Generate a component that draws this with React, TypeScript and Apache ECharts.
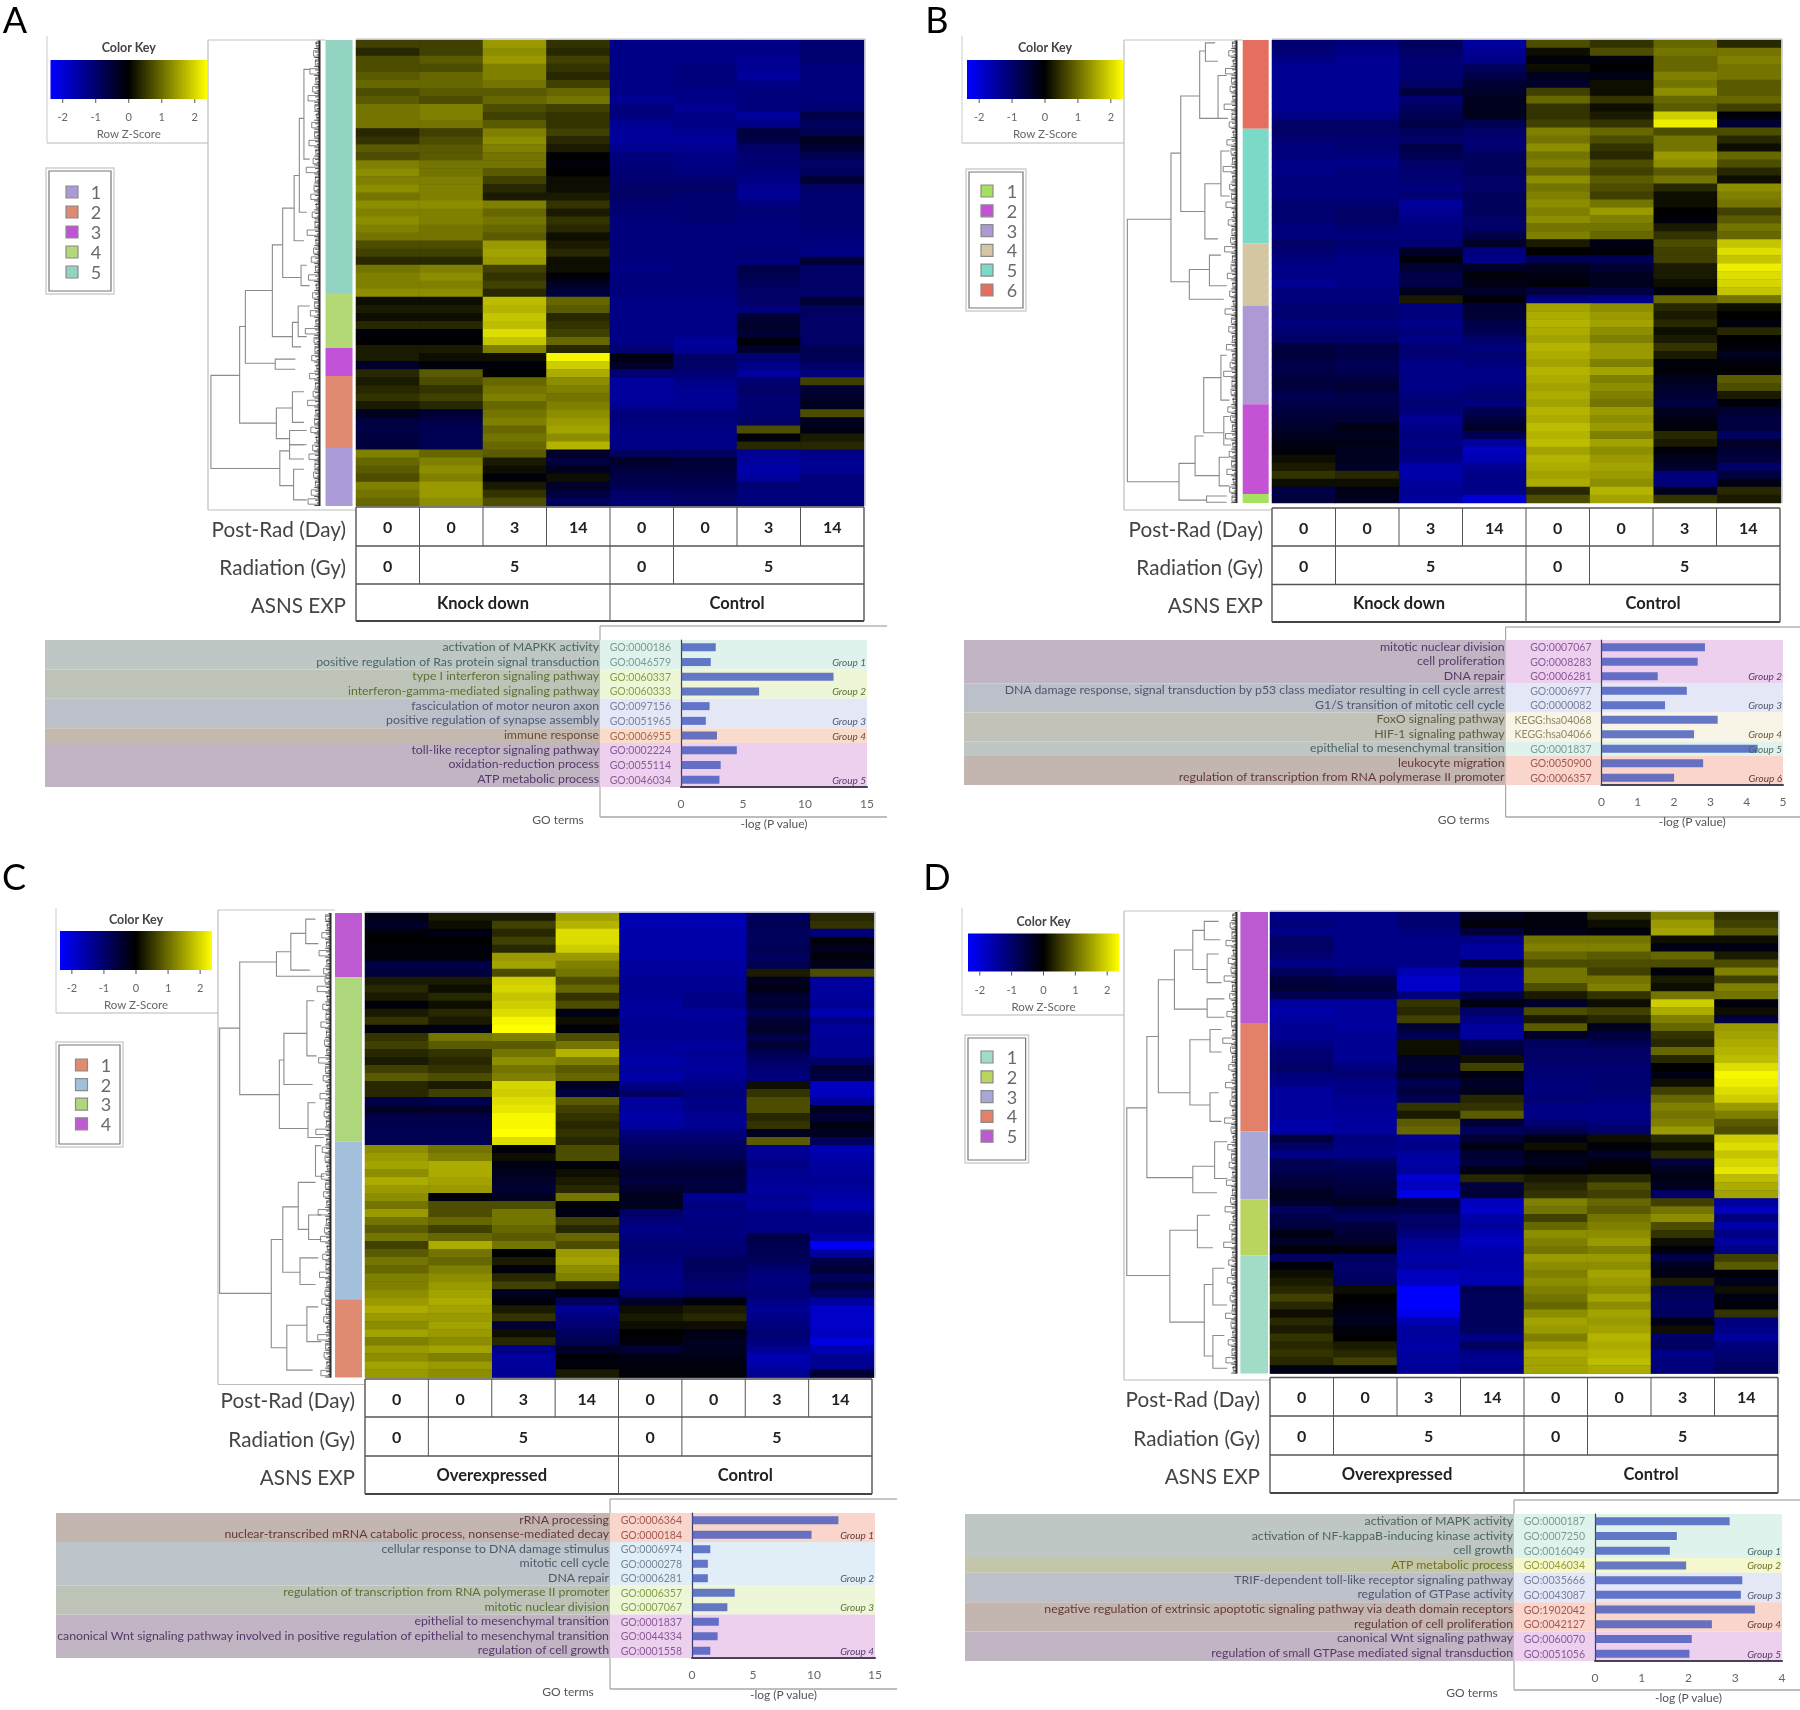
import React, { useEffect, useRef } from "react";
import * as echarts from "echarts";

const postRadDays = ["0", "0", "3", "14", "0", "0", "3", "14"];
const radiationSpans: [number, string][] = [[1, "0"], [3, "5"], [1, "0"], [3, "5"]];
const keyTicks = [-2, -1, 0, 1, 2];

const heatA = [
[5,5,12,4,-13,-13,-13,-11],[3,5,11,3,-13,-13,-13,-11],[6,7,12,5,-13,-13,-14,-11],[6,6,10,4,-13,-12,-14,-12],[7,8,10,3,-13,-12,-15,-12],[8,8,9,5,-13,-12,-13,-12],[6,7,7,8,-13,-13,-12,-12],[7,6,8,9,-14,-13,-12,-12],[9,10,6,5,-12,-14,-12,-11],[9,10,5,4,-12,-13,-15,-7],
[9,9,7,4,-14,-13,-13,-9],[3,5,10,5,-15,-14,-6,-8],[4,6,11,3,-15,-15,-7,-3],[7,7,10,2,-14,-14,-10,-5],[6,7,9,0,-12,-13,-11,-8],[10,9,9,-1,-12,-13,-11,-10],[11,9,7,0,-11,-12,-12,-9],[10,10,5,1,-11,-11,-13,-5],[11,10,3,1,-10,-10,-14,-10],[9,10,2,2,-10,-11,-14,-11],
[11,11,10,4,-11,-11,-12,-11],[10,10,8,2,-11,-11,-11,-11],[11,10,9,4,-12,-11,-12,-11],[10,9,8,3,-12,-12,-12,-11],[9,9,7,1,-12,-12,-12,-12],[6,6,12,2,-12,-12,-12,-12],[5,5,13,3,-12,-12,-11,-13],[3,3,12,1,-12,-12,-12,-5],[9,10,5,1,-13,-12,-7,-10],[10,11,4,-1,-12,-12,-8,-10],
[10,10,5,-4,-12,-12,-9,-10],[11,11,3,-6,-12,-12,-10,-10],[1,1,16,8,-13,-13,-10,-5],[2,2,15,7,-13,-13,-12,-9],[1,1,17,3,-13,-13,-5,-10],[3,3,16,4,-13,-13,-4,-10],[-1,-1,20,5,-13,-13,-5,-10],[0,0,17,8,-13,-15,-1,-10],[2,2,10,3,-11,-14,-4,-8],[2,1,1,23,-2,-10,-11,-8],
[-4,-1,-1,18,-4,-10,-13,-10],[3,7,0,14,-11,-11,-15,-12],[2,6,8,11,-15,-13,-11,5],[3,4,9,10,-15,-14,-10,-5],[4,5,10,9,-15,-14,-11,-4],[2,3,8,10,-14,-14,-11,-3],[-3,-5,9,11,-12,-12,-11,6],[-6,-7,10,12,-12,-12,-10,-3],[-7,-8,8,13,-13,-13,6,-2],[-6,-8,9,11,-13,-13,-1,2],
[-6,-8,8,15,-13,-13,3,3],[10,8,7,-4,-9,-9,-14,-13],[8,10,2,-6,-4,-5,-15,-14],[7,11,1,-3,-6,-6,-16,-14],[6,10,-1,1,-7,-7,-15,-12],[10,12,2,-4,-8,-8,-11,-12],[9,12,4,-6,-10,-9,-12,-12],[8,11,6,-9,-11,-10,-12,-12],
];
const heatB = [
[-11,-12,-9,-15,6,4,8,3],[-11,-13,-10,-14,1,6,9,9],[-13,-14,-11,-13,-1,-1,8,10],[-14,-14,-11,-9,1,0,8,9],[-14,-14,-11,-7,-3,-2,10,9],[-14,-14,-10,-5,-4,1,9,7],[-14,-14,-6,-4,5,1,11,7],[-14,-14,-11,-3,8,4,8,8],[-14,-14,-9,-3,4,1,7,5],[-13,-13,-8,-3,4,2,18,-1],
[-10,-10,-7,-8,5,4,22,-5],[-10,-10,-9,-10,10,8,6,6],[-11,-11,-10,-11,9,6,9,3],[-12,-11,-7,-11,11,4,9,1],[-12,-12,-8,-9,9,3,12,8],[-13,-13,-10,-9,10,6,11,6],[-13,-12,-11,-9,8,5,7,3],[-12,-12,-11,-10,11,7,9,1],[-12,-12,-12,-10,9,6,3,11],[-12,-12,-11,-9,10,5,1,10],
[-11,-11,-15,-9,11,9,1,9],[-11,-10,-14,-9,10,12,0,5],[-11,-10,-13,-10,11,10,-1,7],[-12,-11,-12,-10,9,9,2,9],[-12,-12,-12,-7,10,8,4,8],[-10,-11,-11,-4,2,-2,6,17],[-11,-12,-4,-12,0,-1,5,20],[-12,-13,-1,-13,-8,-8,5,17],[-13,-13,-5,-4,-3,-5,2,22],[-13,-13,-7,-1,-2,-3,2,20],
[-14,-13,-7,-2,-1,-3,1,19],[-12,-12,-3,-4,-6,-6,-1,17],[-12,-12,2,-1,-12,-13,8,9],[-11,-11,-12,-5,13,11,3,1],[-11,-11,-12,-5,14,12,2,0],[-12,-12,-13,-7,15,13,3,-1],[-11,-11,-12,-8,14,11,1,3],[-10,-10,-13,-10,13,10,2,0],[-6,-7,-11,-12,15,12,4,-1],[-6,-7,-11,-11,14,12,2,-3],
[-7,-8,-13,-12,13,10,-1,-1],[-7,-8,-13,-13,15,13,-1,0],[-6,-6,-13,-13,14,10,-3,7],[-6,-5,-13,-12,13,11,-4,6],[-8,-7,-12,-11,14,10,-5,2],[-7,-7,-11,-12,13,9,-6,-1],[-6,-6,-12,-8,15,12,-3,-5],[-5,-5,-14,-6,14,11,-2,-6],[-4,-2,-13,-4,16,12,-1,-6],[-3,-3,-12,-8,15,10,3,-9],
[-2,-2,-13,-15,16,13,2,-4],[-1,-3,-12,-18,13,11,-1,-5],[1,-3,-13,-17,15,12,-3,-6],[2,-4,-16,-14,14,13,-4,-10],[4,3,-16,-13,13,12,-12,-6],[1,1,-15,-13,14,11,-12,-2],[-7,-2,-14,-13,3,15,-3,3],[-6,-3,-15,-20,6,13,4,2],
];
const heatC = [
[-2,2,2,13,-17,-17,-9,3],[-4,1,5,15,-17,-17,-8,4],[-1,-2,3,20,-16,-16,-9,-12],[0,0,5,20,-16,-16,-9,-1],[-1,-1,3,18,-16,-16,-8,-3],[-1,-1,12,12,-16,-16,-9,-1],[-7,-7,13,10,-15,-15,-8,-3],[-6,-6,6,9,-15,-15,2,6],[2,2,18,6,-14,-14,-3,-15],[3,1,19,8,-14,-14,-2,-15],
[2,3,17,4,-14,-13,-5,-15],[-1,1,18,6,-15,-13,-5,-14],[2,3,20,-2,-15,-15,-8,-17],[4,2,23,1,-14,-14,-5,-13],[-1,-2,24,-1,-14,-14,-4,-15],[4,9,10,6,-14,-14,-7,-14],[5,7,7,9,-15,-15,-5,-14],[3,4,9,15,-15,-14,-8,-14],[2,3,11,10,-16,-15,-10,-10],[5,4,9,7,-15,-15,-11,-5],
[7,6,10,8,-16,-14,-12,-6],[3,2,19,-4,-13,-13,1,-18],[3,5,18,-6,-10,-12,4,-18],[-7,-8,20,7,-15,-13,6,-15],[-4,-4,21,5,-15,-13,6,-3],[-7,-7,23,4,-16,-14,3,-5],[-8,-8,23,3,-15,-14,4,-2],[-8,-8,24,4,-12,-12,-3,-3],[-8,-8,20,3,-10,-10,7,-9],[11,9,-1,6,-9,-9,-14,-17],
[12,10,1,6,-8,-8,-14,-16],[13,14,-2,-1,-6,-6,-13,-15],[11,14,-3,1,-5,-5,-14,-15],[14,13,-4,2,-6,-6,-14,-14],[12,12,-5,3,-4,-6,-15,-15],[11,-1,-3,9,-3,-14,-14,-16],[9,6,6,-1,-3,-12,-15,-17],[12,6,9,-2,-10,-13,-13,-14],[9,8,9,5,-12,-12,-13,-13],[7,5,8,3,-13,-12,-13,-13],
[9,8,7,8,-12,-12,-7,-15],[5,14,9,6,-11,-11,-8,-23],[7,9,0,12,-11,-11,-8,-15],[9,8,2,13,-12,-9,-9,-7],[8,10,-1,11,-13,-9,-11,-5],[10,11,3,10,-13,-10,-12,-9],[10,12,5,3,-13,-11,-12,-6],[11,13,-3,-1,-11,-10,-11,-9],[12,14,-1,-9,-4,-1,-13,-15],[14,13,2,-14,1,2,-14,-19],
[12,12,4,-12,2,3,-13,-19],[11,13,-5,-11,1,1,-12,-19],[13,12,1,-9,0,-2,-11,-18],[10,11,3,-8,-1,-3,-12,-21],[12,13,-13,-4,-5,-3,-14,-17],[11,10,-15,-1,-2,-2,-17,-14],[13,12,-15,-1,-1,-1,-16,-14],[12,11,-14,2,-1,-1,-14,-5],
];
const heatD = [
[-13,-13,-11,-3,-1,3,10,4],[-12,-13,-11,-1,-1,1,12,5],[-13,-13,-12,-5,-2,-1,13,7],[-10,-13,-13,-13,9,9,1,1],[-10,-13,-13,-15,10,10,-2,-2],[-11,-13,-13,-15,8,7,8,2],[-13,-13,-13,-4,6,6,6,6],[-9,-11,-17,-14,9,5,-1,10],[-6,-7,-19,-15,9,9,2,5],[-5,-6,-19,-15,6,10,1,10],
[-8,-8,-12,-7,2,4,9,9],[-15,-15,4,-2,-4,1,18,-1],[-16,-15,3,-10,6,5,14,1],[-15,-15,5,-13,2,3,10,-6],[-14,-15,-5,-15,7,-3,8,12],[-14,-14,-8,-15,-4,-6,4,13],[-13,-14,1,-7,-9,-8,3,14],[-11,-14,1,-5,-10,-10,8,15],[-11,-14,-4,1,-10,-10,3,16],[-10,-12,-5,5,-11,-11,0,20],
[-12,-11,-4,-2,-11,-11,-2,23],[-13,-13,-8,-4,-12,-11,1,22],[-15,-13,-6,-3,-12,-11,5,20],[-15,-14,-8,3,-11,-12,8,18],[-15,-14,4,4,-13,-13,10,12],[-15,-15,2,7,-13,-13,9,10],[-16,-15,7,-5,-11,-12,10,7],[-16,-15,8,-9,-8,-10,12,6],[-6,-12,-14,-5,-2,1,3,18],[-10,-13,-13,-2,1,-1,1,20],
[-13,-13,-15,-5,-2,-4,3,17],[-8,-9,-16,-6,-3,-1,-6,19],[-8,-8,-15,-2,-1,0,-3,21],[-6,-7,-20,3,2,3,-2,16],[-5,-6,-18,-6,3,6,-3,14],[-3,-5,-22,-5,4,5,-10,13],[-4,-3,-6,-18,10,8,5,-15],[-9,-7,-7,-19,9,7,9,-18],[-7,-9,-10,-16,5,9,11,-12],[-6,-6,-10,-15,8,10,6,-16],
[-2,-5,-12,-17,11,11,4,-13],[-4,-4,-14,-18,10,12,1,-15],[-1,-1,-15,-17,9,10,-1,-13],[-9,-9,-16,-16,12,12,-7,5],[-1,-10,-15,-16,11,11,-3,7],[1,-10,-18,-17,10,13,-2,-1],[2,-9,-18,-17,11,12,2,-3],[3,1,-24,-8,10,11,-8,1],[5,0,-24,-9,9,13,-9,-2],[3,-1,-24,-9,8,11,-10,-1],
[1,-2,-22,-9,11,13,-9,4],[3,-3,-17,-9,13,12,-2,-12],[2,-1,-15,-9,12,13,1,-13],[4,0,-15,-13,10,15,-10,-15],[3,2,-16,-9,12,14,-9,-12],[4,3,-15,-13,14,15,-13,-11],[3,5,-15,-14,13,16,-12,-10],[-2,-1,-14,-13,13,14,-12,-9],
];

const clusterSizesA = [253, 55, 28, 72, 58];
const clusterColorsA = ["#93d3c2", "#b3d977", "#c252d8", "#e08a72", "#ab9bd6"];
const clusterSizesB = [89, 115, 62, 99, 90, 9];
const clusterColorsB = ["#e56f5f", "#7bd9c7", "#d2c6a3", "#ad99d4", "#c452d4", "#a6e060"];
const clusterSizesC = [64, 164, 157, 78];
const clusterColorsC = ["#be5bd2", "#aed67a", "#a2c0dc", "#df8b72"];
const clusterSizesD = [111, 108, 68, 56, 118];
const clusterColorsD = ["#bc5ad2", "#e38068", "#a9a6d8", "#bad55e", "#a0dcc6"];

const mergesA = [[368,920,1148,418,488],[418,800,1037,428,482],[428,712,890,475,480],[475,600,825,493,510],[493,510,680,513,525],[513,430,590,522,530],[522,290,520,530,535],[530,170,390,540,540],[525,650,700,535,540],[510,790,850,520,525],[520,750,825,540,535],[480,880,905,515,515],[482,1000,1075,510,505],[510,960,1035,530,530],[505,1055,1090,535,535],[488,1105,1190,505,512],[505,1090,1125,530,530],[512,1150,1225,530,535]];
const mergesB = [[397,537,1180,473,487],[473,375,690,490,505],[490,235,518,523,532],[523,125,290,533,555],[533,105,150,550,555],[555,185,290,570,572],[532,450,585,560,555],[560,370,480,575,575],[505,660,733,540,565],[540,625,700,560,570],[487,1135,1225,515,535],[515,1068,1165,530,557],[530,925,1060,560,565],[560,870,980,570,575],[565,1020,1090,575,578],[535,1215,1230,570,570],[557,1120,1190,575,575]];
const mergesC = [[383,412,1062,418,473],[418,250,575,482,487],[482,225,285,507,570],[507,180,270,533,540],[533,145,205,550,555],[487,490,658,495,537],[495,425,550,535,545],[535,345,480,548,552],[537,595,680,550,565],[473,930,1195,493,500],[493,850,1010,520,523],[520,790,905,550,538],[550,700,775,560,565],[538,870,930,560,560],[523,975,1040,555,550],[500,1140,1250,535,545],[535,1095,1180,555,560]];
const mergesD = [[395,607,1018,430,470],[430,432,778,450,510],[450,293,570,478,505],[478,220,365,510,535],[510,172,268,530,535],[530,150,195,555,558],[535,230,300,555,560],[535,340,385,565,565],[505,440,600,540,540],[540,415,470,560,560],[540,570,640,555,560],[510,750,815,548,552],[548,690,780,570,570],[470,907,1132,518,530],[518,870,950,540,545],[530,1040,1215,545,545],[545,1000,1090,565,570],[545,1165,1245,565,570]];

const twigsA = [8,14,10,22,9,16,26,11,7,18,12,24,9,15,30,10,13,20,8,17,11,28,9,14,19,10,25,8,16,12,21,9,32,13,11,18,7,23,10,15,27,9,12,20,8,16,24,11,14,10,19,26];
const twigsB = [10,18,8,25,12,15,9,28,11,17,8,22,13,10,30,9,16,12,24,8,19,11,14,27,10,13,21,9,16,8,26,12,18,10,23,9,15,29,11,13,8,20,14,10,25,9,17,12,22,8,16,11];
const twigsC = [12,8,20,10,26,9,16,13,30,8,18,11,22,10,14,9,27,12,17,8,24,11,15,10,33,9,19,13,8,21,12,16,9,28,10,14,23,8,18,11,25,9,13,20,10,16,8,29,12,15,9,22];
const twigsD = [9,15,11,24,8,19,13,28,10,16,8,22,12,9,31,14,10,18,8,25,11,15,9,27,13,8,20,12,17,9,23,10,14,26,8,16,11,29,9,18,12,21,8,15,10,25,13,9,19,11,24,8];

const goIdsA = ["GO:0000186","GO:0046579","GO:0060337","GO:0060333","GO:0097156","GO:0051965","GO:0006955","GO:0002224","GO:0055114","GO:0046034"];
const goTermsA = ["activation of MAPKK activity","positive regulation of Ras protein signal transduction","type I interferon signaling pathway","interferon-gamma-mediated signaling pathway","fasciculation of motor neuron axon","positive regulation of synapse assembly","immune response","toll-like receptor signaling pathway","oxidation-reduction process","ATP metabolic process"];
const goValuesA = [2.8, 2.4, 12.3, 6.3, 2.3, 2.0, 2.9, 4.5, 3.2, 3.1];
const goGroupsA: [string, number, string][] = [["Group 1", 2, "teal"], ["Group 2", 2, "green"], ["Group 3", 2, "lav"], ["Group 4", 1, "peach"], ["Group 5", 3, "pink"]];

const goIdsB = ["GO:0007067","GO:0008283","GO:0006281","GO:0006977","GO:0000082","KEGG:hsa04068","KEGG:hsa04066","GO:0001837","GO:0050900","GO:0006357"];
const goTermsB = ["mitotic nuclear division","cell proliferation","DNA repair","DNA damage response, signal transduction by p53 class mediator resulting in cell cycle arrest","G1/S transition of mitotic cell cycle","FoxO signaling pathway","HIF-1 signaling pathway","epithelial to mesenchymal transition","leukocyte migration","regulation of transcription from RNA polymerase II promoter"];
const goValuesB = [2.85, 2.65, 1.55, 2.35, 1.75, 3.2, 2.55, 4.3, 2.8, 2.0];
const goGroupsB: [string, number, string][] = [["Group 2", 3, "pink"], ["Group 3", 2, "lav"], ["Group 4", 2, "tan"], ["Group 5", 1, "teal"], ["Group 6", 2, "salmon"]];

const goIdsC = ["GO:0006364","GO:0000184","GO:0006974","GO:0000278","GO:0006281","GO:0006357","GO:0007067","GO:0001837","GO:0044334","GO:0001558"];
const goTermsC = ["rRNA processing","nuclear-transcribed mRNA catabolic process, nonsense-mediated decay","cellular response to DNA damage stimulus","mitotic cell cycle","DNA repair","regulation of transcription from RNA polymerase II promoter","mitotic nuclear division","epithelial to mesenchymal transition","canonical Wnt signaling pathway involved in positive regulation of epithelial to mesenchymal transition","regulation of cell growth"];
const goValuesC = [12, 9.8, 1.5, 1.3, 1.3, 3.5, 2.9, 2.2, 2.1, 1.5];
const goGroupsC: [string, number, string][] = [["Group 1", 2, "salmon"], ["Group 2", 3, "sky"], ["Group 3", 2, "green"], ["Group 4", 3, "pink"]];

const goIdsD = ["GO:0000187","GO:0007250","GO:0016049","GO:0046034","GO:0035666","GO:0043087","GO:1902042","GO:0042127","GO:0060070","GO:0051056"];
const goTermsD = ["activation of MAPK activity","activation of NF-kappaB-inducing kinase activity","cell growth","ATP metabolic process","TRIF-dependent toll-like receptor signaling pathway","regulation of GTPase activity","negative regulation of extrinsic apoptotic signaling pathway via death domain receptors","regulation of cell proliferation","canonical Wnt signaling pathway","regulation of small GTPase mediated signal transduction"];
const goValuesD = [2.88, 1.75, 1.6, 1.95, 3.15, 3.12, 3.42, 2.5, 2.07, 2.02];
const goGroupsD: [string, number, string][] = [["Group 1", 3, "teal"], ["Group 2", 1, "yellow"], ["Group 3", 2, "lav"], ["Group 4", 2, "salmon"], ["Group 5", 2, "pink"]];

const bandTones: Record<string, { left: string; right: string; text: string; id: string }> = {
  teal: { left: "#bfc7c4", right: "#dff3ec", text: "#4b6562", id: "#7d9a95" },
  green: { left: "#bdc4b7", right: "#eef6d8", text: "#5c7034", id: "#86a04a" },
  lav: { left: "#bbc0c9", right: "#e4e7f6", text: "#50566e", id: "#7b82a0" },
  peach: { left: "#c4b9ae", right: "#f9dccb", text: "#6e4a38", id: "#a5694c" },
  pink: { left: "#c2b5c3", right: "#ecd0ee", text: "#55386a", id: "#8a5a98" },
  sky: { left: "#bdc4ca", right: "#e2eef7", text: "#4b5a6a", id: "#71879a" },
  salmon: { left: "#c3b6b0", right: "#f9d5cc", text: "#64383a", id: "#a15a52" },
  tan: { left: "#c3c2b8", right: "#f8f4e6", text: "#5f5a40", id: "#8f8966" },
  yellow: { left: "#c3c6a9", right: "#f5f7cf", text: "#6d7220", id: "#97a030" },
};

const panels = [
  { letter: "A", lx: 15, ly: 19, heat: heatA, sizes: clusterSizesA, colors: clusterColorsA, merges: mergesA, twigs: twigsA, ids: goIdsA, terms: goTermsA, vals: goValuesA, groups: goGroupsA, max: 15, step: 5, asns: "Knock down",
    hx: 356, hy: 40, hw: 508, hh: 466, sx: 325.5, sw: 27, zy: [98, 1240], zx: [362, 558], dx: 208, dr: 320,
    kx: 50.5, kw: 156.5, ky: 60, kh: 39, ktop: 47, kt: 116, kz: 133, fl: 47, fr: 208, ft: 40, fb: 510, fk: 143, fkt: 36,
    lg: [46, 168, 68, 126], lgx: 72, lgt: 192, lgs: 20, lgl: 96,
    ty: [507, 546, 584, 621], tx: 356, tw: 508, labR: 346,
    bl: 45, bm: 600, bt: 640, bb: 787, br: 867, b0: 681, bx: 887, btop: 626, bbot: 817 },
  { letter: "B", lx: 937, ly: 19, heat: heatB, sizes: clusterSizesB, colors: clusterColorsB, merges: mergesB, twigs: twigsB, ids: goIdsB, terms: goTermsB, vals: goValuesB, groups: goGroupsB, max: 5, step: 1, asns: "Knock down",
    hx: 1272, hy: 40, hw: 509, hh: 463, sx: 1242.7, sw: 26, zy: [98, 1232], zx: [391, 588], dx: 1124, dr: 1237,
    kx: 967, kw: 156, ky: 60, kh: 39, ktop: 47, kt: 116, kz: 133, fl: 962, fr: 1124, ft: 40, fb: 510, fk: 143, fkt: 36,
    lg: [966, 169, 60, 142], lgx: 987, lgt: 191, lgs: 19.8, lgl: 1012,
    ty: [508, 546, 584.5, 622], tx: 1272, tw: 508, labR: 1263,
    bl: 964, bm: 1505.6, bt: 640, bb: 785, br: 1783, b0: 1601.5, bx: 1800, btop: 627, bbot: 817 },
  { letter: "C", lx: 14, ly: 876, heat: heatC, sizes: clusterSizesC, colors: clusterColorsC, merges: mergesC, twigs: twigsC, ids: goIdsC, terms: goTermsC, vals: goValuesC, groups: goGroupsC, max: 15, step: 5, asns: "Overexpressed",
    hx: 365, hy: 913, hw: 509, hh: 464.5, sx: 335, sw: 27, zy: [130, 1268], zx: [379, 577], dx: 218, dr: 331,
    kx: 60, kw: 152, ky: 931, kh: 39, ktop: 919, kt: 987, kz: 1004, fl: 56, fr: 218, ft: 910, fb: 1384.5, fk: 1013, fkt: 908,
    lg: [56, 1042, 67, 105], lgx: 81.5, lgt: 1065, lgs: 19.6, lgl: 106,
    ty: [1379, 1417, 1456, 1494], tx: 365, tw: 507, labR: 355,
    bl: 56, bm: 610, bt: 1513, bb: 1658, br: 875, b0: 692, bx: 897, btop: 1499, bbot: 1689 },
  { letter: "D", lx: 937, ly: 876, heat: heatD, sizes: clusterSizesD, colors: clusterColorsD, merges: mergesD, twigs: twigsD, ids: goIdsD, terms: goTermsD, vals: goValuesD, groups: goGroupsD, max: 4, step: 1, asns: "Overexpressed",
    hx: 1270, hy: 912, hw: 508, hh: 461.5, sx: 1240.4, sw: 27.6, zy: [127, 1258], zx: [390, 587], dx: 1124, dr: 1237,
    kx: 968, kw: 151, ky: 933.5, kh: 38, ktop: 921, kt: 989, kz: 1006, fl: 962, fr: 1124, ft: 911, fb: 1380, fk: 1015, fkt: 908,
    lg: [965, 1035, 63.6, 128], lgx: 987, lgt: 1057, lgs: 19.8, lgl: 1012,
    ty: [1377.5, 1416, 1455, 1493], tx: 1270, tw: 508, labR: 1260,
    bl: 965, bm: 1514, bt: 1514, bb: 1661, br: 1782, b0: 1595, bx: 1800, btop: 1500, bbot: 1690 },
];

const SANS = 'Lato, "Liberation Sans", sans-serif';

function txt(x: number, y: number, text: string, font: string, fill: string, align = "center") {
  return { type: "text", x, y, silent: true, z: 5, style: { text, font, fill, align, verticalAlign: "middle" } };
}
function seg(x1: number, y1: number, x2: number, y2: number, stroke: string, lineWidth = 1, z = 4) {
  return { type: "line", silent: true, z, shape: { x1, y1, x2, y2 }, style: { stroke, lineWidth } };
}
function box(x: number, y: number, width: number, height: number, style: any, z = 0) {
  return { type: "rect", silent: true, z, shape: { x, y, width, height }, style };
}

function mergeRender(_p: any, api: any) {
  const xv = api.value(0), yt = api.value(1), yb = api.value(2), xt = api.value(3), xr = api.value(4);
  const pts = [[xt, yt], [xv, yt], [xv, yb], [xr, yb]].map((c) => api.coord(c));
  return { type: "polyline", shape: { points: pts }, style: { stroke: "#8c8c8c", lineWidth: 1.1, fill: null } };
}
function twigRender(span: number[], leaf: number, n: number) {
  return (p: any, api: any) => {
    const len = api.value(1) * 0.8;
    const i = p.dataIndex;
    const step = (span[1] - span[0]) / n;
    const y1 = span[0] + i * step + step * 0.2;
    const y2 = span[0] + i * step + step * 0.8;
    const pts = [[leaf, y1], [leaf - len, y1], [leaf - len, y2], [leaf, y2]].map((c) => api.coord(c));
    const children: any[] = [{ type: "polyline", shape: { points: pts }, style: { stroke: "#555", lineWidth: 0.7, fill: null } }];
    const offs = [0.05, 0.35, 0.65, 0.95];
    offs.forEach((o, j) => {
      const a = api.coord([leaf - 4 - ((j * 3) % 5) * 1.5, span[0] + (i + o) * step]);
      const b = api.coord([leaf, span[0] + (i + o) * step]);
      children.push({ type: "line", shape: { x1: a[0], y1: a[1], x2: b[0], y2: b[1] }, style: { stroke: "#222", lineWidth: 0.8 } });
    });
    return { type: "group", children };
  };
}

function buildOption() {
  const grid: any[] = [], xAxis: any[] = [], yAxis: any[] = [], series: any[] = [], g: any[] = [];
  const heatIdx: number[] = [];
  const hidden = { show: false };
  panels.forEach((P) => {
    // heatmap
    let gi = grid.length;
    grid.push({ left: P.hx, top: P.hy, width: P.hw, height: P.hh, backgroundColor: "#000040", show: true, borderWidth: 0 });
    xAxis.push({ type: "category", gridIndex: gi, data: postRadDays.map((d, i) => i + ":" + d), ...hidden });
    yAxis.push({ type: "category", gridIndex: gi, inverse: true, data: P.heat.map((_, i) => String(i)), ...hidden });
    const cells: number[][] = [];
    P.heat.forEach((r, y) => r.forEach((v, x) => cells.push([x, y, v / 10])));
    heatIdx.push(series.length);
    series.push({ type: "heatmap", xAxisIndex: gi, yAxisIndex: gi, data: cells, silent: true, progressive: 0, itemStyle: { borderWidth: 0 } });

    // cluster colour bar
    gi = grid.length;
    grid.push({ left: P.sx, top: P.hy, width: P.sw, height: P.hh });
    xAxis.push({ type: "category", gridIndex: gi, data: ["cluster"], ...hidden });
    const total = P.sizes.reduce((a, b) => a + b, 0);
    yAxis.push({ type: "value", gridIndex: gi, inverse: true, min: 0, max: total, ...hidden });
    P.sizes.forEach((s, i) => {
      series.push({ type: "bar", stack: "c" + P.letter, xAxisIndex: gi, yAxisIndex: gi, data: [s], barWidth: "100%", silent: true, itemStyle: { color: P.colors[i] } });
    });

    // dendrogram
    gi = grid.length;
    const k = 1.742;
    grid.push({ left: P.dx, top: P.hy, width: P.dr - P.dx, height: P.hh });
    xAxis.push({ type: "value", gridIndex: gi, min: P.zx[1] - (P.dr - P.dx) * k, max: P.zx[1], ...hidden });
    yAxis.push({ type: "value", gridIndex: gi, inverse: true, min: P.zy[0], max: P.zy[1], ...hidden });
    series.push({ type: "custom", xAxisIndex: gi, yAxisIndex: gi, coordinateSystem: "cartesian2d", silent: true, clip: false, data: P.merges, renderItem: mergeRender, encode: { x: [0, 3, 4], y: [1, 2] } });
    series.push({ type: "custom", xAxisIndex: gi, yAxisIndex: gi, coordinateSystem: "cartesian2d", silent: true, clip: false, data: P.twigs.map((t, i) => [i, t]), renderItem: twigRender(P.zy, P.zx[1], P.twigs.length), encode: { x: 1, y: 0 } });
    g.push(seg(P.dr - 0.5, P.hy, P.dr - 0.5, P.hy + P.hh, "#2a2a2a", 2));

    // GO bar chart
    const rowH = (P.bb - P.bt) / P.ids.length;
    g.push(box(P.bm, P.btop, P.bx - P.bm, P.bbot - P.btop, { fill: "#fff" }, -2));
    g.push(seg(P.bm, P.btop, P.bx, P.btop, "#b5b5b5", 1.5, -1));
    g.push(seg(P.bm, P.btop, P.bm, P.bbot, "#a8a8a8", 1.2, -1));
    g.push(seg(P.bm, P.bbot, P.bx, P.bbot, "#a8a8a8", 1.5, -1));
    let row = 0;
    const rowTone: string[] = [];
    P.groups.forEach(([name, count, tone]) => {
      const t = bandTones[tone];
      const y = P.bt + row * rowH, h = count * rowH;
      g.push(box(P.bl, y, P.bm - P.bl, h, { fill: t.left }, -1));
      g.push(box(P.bm, y, P.br - P.bm, h, { fill: t.right }, -1));
      g.push(txt(P.br - 1, y + h - rowH / 2, name, `italic 10px ${SANS}`, t.text, "right"));
      for (let i = 0; i < count; i++) rowTone.push(tone);
      row += count;
    });
    P.terms.forEach((term, i) => {
      g.push(txt(P.bm - 1, P.bt + (i + 0.5) * rowH - 1, term, `12.3px ${SANS}`, bandTones[rowTone[i]].text, "right"));
    });
    gi = grid.length;
    grid.push({ left: P.b0, top: P.bt, width: P.br - P.b0, height: P.bb - P.bt });
    xAxis.push({
      type: "value", gridIndex: gi, min: 0, max: P.max, interval: P.step,
      splitLine: hidden, axisTick: hidden,
      axisLine: { show: true, lineStyle: { color: "#4a4058", width: 2 } },
      axisLabel: { color: "#666", fontFamily: SANS, fontSize: 12, margin: 10, showMaxLabel: true },
      name: "-log (P value)", nameLocation: "middle", nameGap: 30, nameTextStyle: { color: "#555", fontFamily: SANS, fontSize: 12 },
    });
    yAxis.push({
      type: "category", gridIndex: gi, inverse: true, data: P.ids,
      axisTick: hidden, axisLine: { show: true, lineStyle: { color: "#3c3c50", width: 1.2 } },
      axisLabel: { margin: 10, fontFamily: SANS, fontSize: 10.5, color: (_v: any, i: number) => bandTones[rowTone[i]].id },
    });
    series.push({ type: "bar", xAxisIndex: gi, yAxisIndex: gi, data: P.vals, barWidth: 8, silent: true, itemStyle: { color: "rgba(54,78,186,0.75)" } });
    g.push(txt(P.bm - 42, P.bbot + 2, "GO terms", `12px ${SANS}`, "#555"));

    // panel letter
    g.push(txt(P.lx, P.ly, P.letter, `36px ${SANS}`, "#000"));

    // colour key
    g.push(box(P.kx, P.ky, P.kw, P.kh, {
      fill: new echarts.graphic.LinearGradient(0, 0, 1, 0, [{ offset: 0, color: "#0000ff" }, { offset: 0.5, color: "#000000" }, { offset: 1, color: "#ffff00" }]),
    }));
    g.push(txt(P.kx + P.kw / 2, P.ktop, "Color Key", `bold 12.5px ${SANS}`, "#444"));
    g.push(txt(P.kx + P.kw / 2, P.kz, "Row Z-Score", `11.5px ${SANS}`, "#666"));
    keyTicks.forEach((t) => {
      const x = P.kx + P.kw / 2 + (t * P.kw) / 4.74;
      g.push(seg(x, P.ky + P.kh, x, P.ky + P.kh + 4, "#555", 1));
      g.push(txt(x, P.kt, String(t), `11px ${SANS}`, "#666"));
    });
    // frame around key + dendrogram
    g.push(seg(P.fl, P.fkt, P.fl, P.fk, "#d4d4d4", 1.2));
    g.push(seg(P.fl, P.fk, P.fr, P.fk, "#b8b8b8", 1.2));
    g.push(seg(P.fr, P.ft, P.fr, P.fb, "#bdbdbd", 1.2));
    g.push(seg(P.fr, P.ft, P.sx, P.ft, "#c4c4c4", 1.2));
    g.push(seg(P.fr, P.fb, P.tx, P.fb, "#bdbdbd", 1.2));
    g.push(seg(P.hx, P.hy - 1, P.hx + P.hw + 1, P.hy - 1, "#b5b8c8", 1.2));
    g.push(seg(P.hx + P.hw + 1, P.hy - 1, P.hx + P.hw + 1, P.hy + P.hh, "#b5b8c8", 1.2));

    // cluster legend
    const [lx, ly, lw, lh] = P.lg;
    g.push(box(lx, ly, lw, lh, { fill: "#fff", stroke: "#cfcfcf", lineWidth: 1.5 }));
    g.push(box(lx + 3, ly + 3, lw - 6, lh - 6, { fill: "none", stroke: "#777", lineWidth: 1.2 }));
    const nc = P.colors.length;
    P.colors.forEach((_, i) => {
      const y = P.lgt + i * P.lgs;
      g.push(box(P.lgx - 6, y - 6, 12, 12, { fill: P.colors[nc - 1 - i], stroke: "#8a8a8a", lineWidth: 1.2 }, 3));
      g.push(txt(P.lgl, y, String(i + 1), `18px ${SANS}`, "#6a6a6a"));
    });

    // annotation table
    const cw = P.tw / 8;
    const [y0, y1, y2, y3] = P.ty;
    g.push(txt(P.labR, (y0 + y1) / 2 + 2, "Post-Rad (Day)", `20.7px ${SANS}`, "#444", "right"));
    g.push(txt(P.labR, (y1 + y2) / 2 + 2, "Radiation (Gy)", `20.7px ${SANS}`, "#444", "right"));
    g.push(txt(P.labR, (y2 + y3) / 2 + 2, "ASNS EXP", `20.7px ${SANS}`, "#444", "right"));
    [y0, y1, y2].forEach((y) => g.push(seg(P.tx, y, P.tx + P.tw, y, "#555", 1.4)));
    g.push(seg(P.tx, y3, P.tx + P.tw, y3, "#444", 2));
    g.push(seg(P.tx, y0, P.tx, y3, "#555", 1.4));
    g.push(seg(P.tx + P.tw, y0, P.tx + P.tw, y3, "#555", 1.4));
    postRadDays.forEach((d, i) => {
      if (i > 0) g.push(seg(P.tx + i * cw, y0, P.tx + i * cw, y1, "#555", 1));
      g.push(txt(P.tx + (i + 0.5) * cw, (y0 + y1) / 2, d, `bold 16px ${SANS}`, "#222"));
    });
    let c = 0;
    radiationSpans.forEach(([n, lab], i) => {
      if (i > 0) g.push(seg(P.tx + c * cw, y1, P.tx + c * cw, y2, "#555", 1));
      g.push(txt(P.tx + (c + n / 2) * cw, (y1 + y2) / 2, lab, `bold 16px ${SANS}`, "#222"));
      c += n;
    });
    g.push(seg(P.tx + 4 * cw, y2, P.tx + 4 * cw, y3, "#555", 1));
    g.push(txt(P.tx + 2 * cw, (y2 + y3) / 2, P.asns, `bold 16.5px ${SANS}`, "#222"));
    g.push(txt(P.tx + 6 * cw, (y2 + y3) / 2, "Control", `bold 16.5px ${SANS}`, "#222"));
  });

  return {
    animation: false,
    backgroundColor: "#ffffff",
    grid, xAxis, yAxis, series,
    visualMap: {
      show: false, type: "continuous", min: -2.4, max: 2.4, dimension: 2, seriesIndex: heatIdx,
      inRange: { color: ["#0000ff", "#00007c", "#000000", "#9a9a00", "#ffff00"] },
    },
    graphic: { elements: g },
  };
}

export default function App() {
  const ref = useRef<HTMLDivElement>(null);
  useEffect(() => {
    const chart = echarts.init(ref.current!, undefined, { renderer: "svg" });
    chart.setOption(buildOption() as any);
    return () => chart.dispose();
  }, []);
  return <div ref={ref} style={{ position: "absolute", left: 0, top: 0, width: 1800, height: 1710, filter: "blur(0.5px)" }} />;
}
